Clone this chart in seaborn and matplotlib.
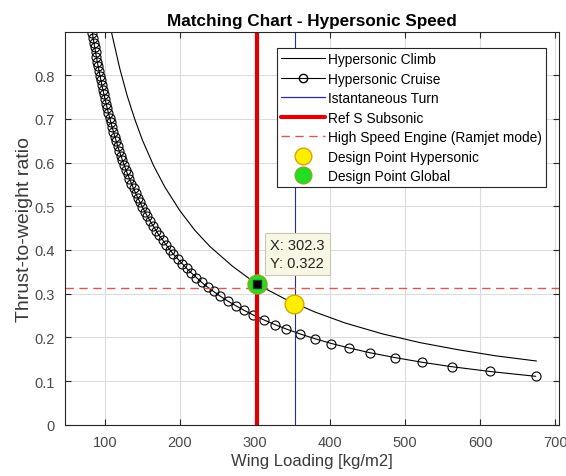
import numpy as np
import pandas as pd
import matplotlib
matplotlib.use("Agg")
import matplotlib.pyplot as plt
import seaborn as sns
from matplotlib.lines import Line2D

# data
climb_x = [100, 110, 120, 130, 140, 150, 165, 180, 200, 220, 240, 270, 302.3,
           340, 380, 420, 470, 520, 570, 620, 675]
climb_y = [0.97, 0.89, 0.815, 0.752, 0.699, 0.652, 0.593, 0.544, 0.49, 0.445,
           0.408, 0.363, 0.322, 0.288, 0.258, 0.233, 0.208, 0.188, 0.172, 0.158, 0.146]

cruise_y = [0.111, 0.122, 0.133, 0.143, 0.154, 0.165, 0.176, 0.186, 0.197, 0.208,
            0.219, 0.229, 0.240, 0.251, 0.262, 0.272, 0.283, 0.294, 0.305, 0.315,
            0.326, 0.337, 0.348, 0.358, 0.369, 0.380, 0.391, 0.401, 0.412, 0.423,
            0.434, 0.444, 0.455, 0.466, 0.477, 0.487, 0.498, 0.509, 0.520, 0.530,
            0.541, 0.552, 0.563, 0.573, 0.584, 0.595, 0.606, 0.616, 0.627, 0.638,
            0.649, 0.659, 0.670, 0.681, 0.692, 0.702, 0.713, 0.724, 0.735, 0.745,
            0.756, 0.767, 0.778, 0.788, 0.799, 0.810, 0.821, 0.831, 0.842, 0.853,
            0.864, 0.874, 0.885, 0.896]
cruise_x = [674, 613, 562, 523, 486, 453, 425, 402, 380, 360,
            342, 327, 312, 298, 285.5, 275, 264, 254, 245, 237,
            229, 222, 215, 209, 203, 197, 191, 186.5, 181.5, 177,
            172, 168.5, 164.4, 160.5, 156.8, 153.6, 150.2, 147, 143.8, 141.1,
            138.3, 135.5, 132.9, 130.5, 128.1, 125.7, 123.4, 121.4, 119.3, 117.2,
            115.3, 113.5, 111.6, 109.8, 108.1, 106.6, 104.9, 103.3, 101.8, 100.4,
            98.9, 97.5, 96.1, 94.9, 93.6, 92.3, 91.1, 90.0, 88.8, 87.7,
            86.6, 85.6, 84.5, 83.5]

turn_x = 353.0
ref_s_x = 302.3
ramjet_y = 0.314
design_hyp = (352.4, 0.277)
design_glob = (302.3, 0.322)

turn_color = '#2a2aa0'

sns.set_theme(style="whitegrid")
plt.rcParams['font.family'] = ['Liberation Sans', 'DejaVu Sans']

fig = plt.figure(figsize=(5.66, 4.77), dpi=100)
ax = fig.add_axes([0.1148, 0.1073, 0.8728, 0.8229])

climb = pd.DataFrame({'x': climb_x, 'y': climb_y})
cruise = pd.DataFrame({'x': cruise_x, 'y': cruise_y})

sns.lineplot(data=climb, x='x', y='y', color='black', linewidth=0.8, ax=ax)
sns.lineplot(data=cruise, x='x', y='y', color='black', linewidth=0.8, marker='o',
             markersize=6.5, markerfacecolor='none', markeredgecolor='black',
             markeredgewidth=0.8, ax=ax)
ax.axvline(turn_x, color=turn_color, linewidth=0.8)
ax.axvline(ref_s_x, color='#e00000', linewidth=3)
ax.axhline(ramjet_y, color='#d45a50', linewidth=1, dashes=(6, 4))
ax.plot(*design_hyp, 'o', markersize=13.5, markerfacecolor='#ffee00',
        markeredgecolor='#d8a400', markeredgewidth=1)
ax.plot(*design_glob, 'o', markersize=13.5, markerfacecolor='#22dd22',
        markeredgecolor='#7ab020', markeredgewidth=1.2)
# data tip
ax.plot(*design_glob, 's', markersize=6, markerfacecolor='black',
        markeredgecolor='#333333')
ax.text(design_glob[0] + 18, design_glob[1] + 0.033, 'X: 302.3\nY: 0.322',
        fontsize=10.5, color='#222222', linespacing=1.3, va='bottom', ha='left',
        bbox=dict(boxstyle='square,pad=0.35', facecolor='#f7f7e4',
                  edgecolor='#c8c8b8', linewidth=0.8))

ax.set_xlim(47, 705)
ax.set_ylim(0, 0.898)
ax.set_xticks([100, 200, 300, 400, 500, 600, 700])
ax.set_yticks([0, 0.1, 0.2, 0.3, 0.4, 0.5, 0.6, 0.7, 0.8])
ax.set_yticklabels(['0', '0.1', '0.2', '0.3', '0.4', '0.5', '0.6', '0.7', '0.8'])
ax.grid(True, color='#dcdcdc', linewidth=0.8)
ax.set_facecolor('white')
for s in ax.spines.values():
    s.set_color('#262626')
    s.set_linewidth(0.8)
ax.tick_params(direction='in', length=4, width=0.8, color='#262626',
               labelsize=10.5, labelcolor='#4a4a4a', top=True, right=True,
               bottom=True, left=True, pad=7.5)

ax.set_xlabel('Wing Loading [kg/m2]', fontsize=12, color='#3a3a3a', labelpad=3)
ax.set_ylabel('Thrust-to-weight ratio', fontsize=14, color='#3a3a3a', labelpad=1)
ax.set_title('Matching Chart - Hypersonic Speed', fontsize=12.3, fontweight='bold',
             color='black', pad=5)

handles = [
    Line2D([], [], color='black', linewidth=0.8),
    Line2D([], [], color='black', linewidth=0.8, marker='o', markersize=6,
           markerfacecolor='none', markeredgecolor='black'),
    Line2D([], [], color=turn_color, linewidth=0.9),
    Line2D([], [], color='#e00000', linewidth=3),
    Line2D([], [], color='#d45a50', linewidth=1, dashes=(6, 4)),
    Line2D([], [], linestyle='none', marker='o', markersize=12,
           markerfacecolor='#ffee00', markeredgecolor='#d8a400'),
    Line2D([], [], linestyle='none', marker='o', markersize=12,
           markerfacecolor='#22dd22', markeredgecolor='#7ab020'),
]
labels = ['Hypersonic Climb', 'Hypersonic Cruise', 'Istantaneous Turn',
          'Ref S Subsonic', 'High Speed Engine (Ramjet mode)',
          'Design Point Hypersonic', 'Design Point Global']
leg = ax.legend(handles, labels, loc='upper right', bbox_to_anchor=(0.974, 0.96),
                borderaxespad=0, fontsize=9.9, frameon=True, fancybox=False,
                handlelength=3.2, handletextpad=0.25, labelspacing=0.4,
                borderpad=0.3, framealpha=1)
leg.get_frame().set_edgecolor('#262626')
leg.get_frame().set_linewidth(0.8)
for t in leg.get_texts():
    t.set_color('black')

fig.savefig('out.png', dpi=100)
